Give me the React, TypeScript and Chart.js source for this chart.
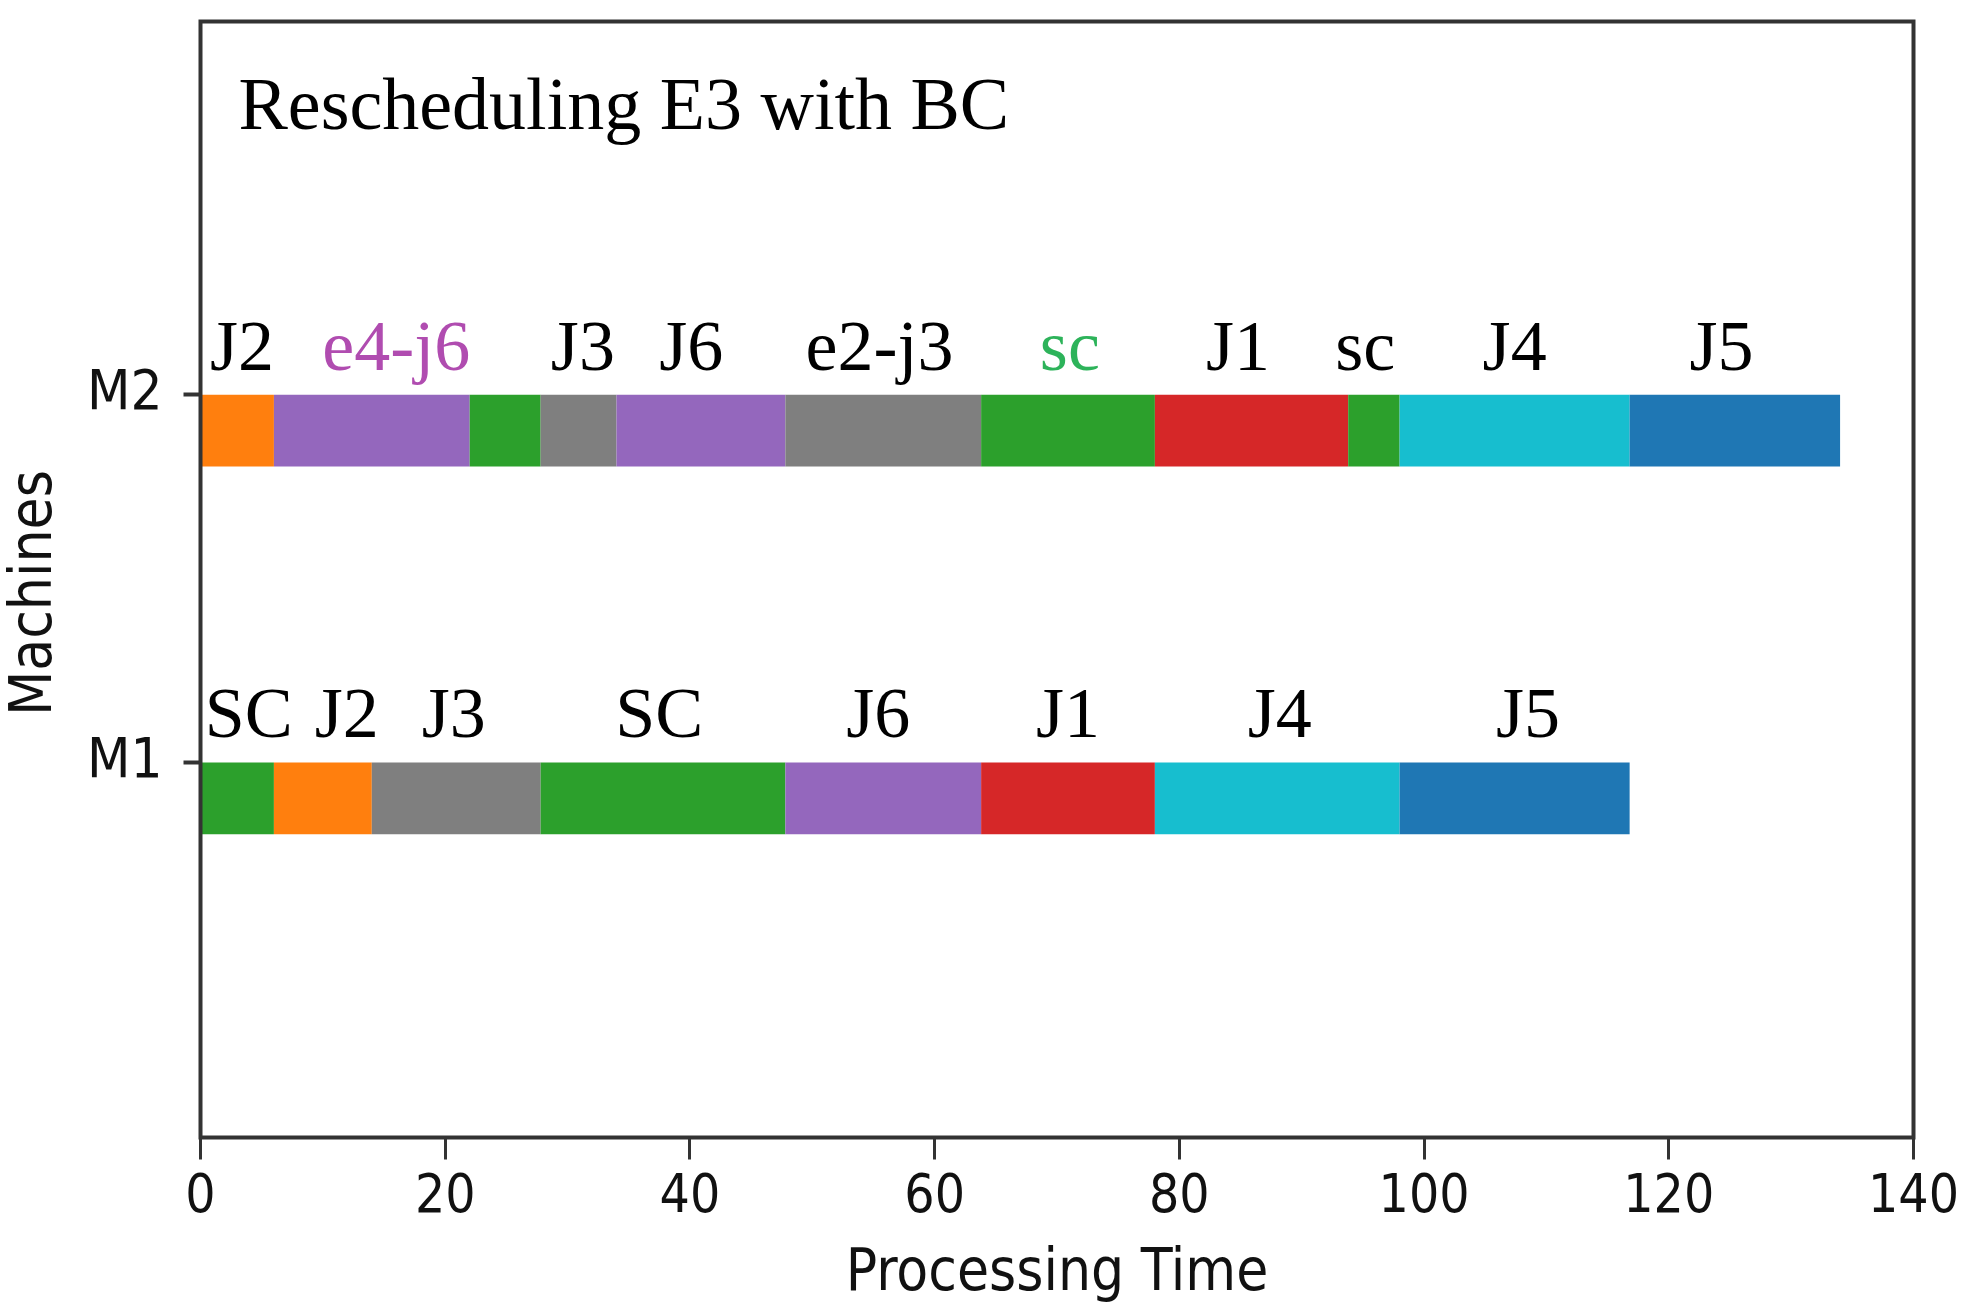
import React, { useEffect, useRef } from 'react';
import { Chart, registerables } from 'chart.js';

Chart.register(...registerables);

// ---------------- data ----------------
const TITLE = 'Rescheduling E3 with BC';
const MACHINES = ['M1', 'M2'];
const MACHINE_POS = [10, 20];
const BAR_HEIGHT = 1.95;

const M1_START = [0, 6, 14, 27.8, 47.8, 63.8, 78, 98];
const M1_END = [6, 14, 27.8, 47.8, 63.8, 78, 98, 116.8];
const M1_LABELS = ['SC', 'J2', 'J3', 'SC', 'J6', 'J1', 'J4', 'J5'];
const M1_LABEL_X = [3.95, 11.95, 20.7, 37.5, 55.4, 70.9, 88.2, 108.5];

const M2_START = [0, 6, 22, 27.8, 34, 47.8, 63.8, 78, 93.8, 98, 116.8];
const M2_END = [6, 22, 27.8, 34, 47.8, 63.8, 78, 93.8, 98, 116.8, 134];
const M2_LABELS = ['J2', 'e4-j6', '', 'J3', 'J6', 'e2-j3', 'sc', 'J1', 'sc', 'J4', 'J5'];
const M2_LABEL_X = [3.4, 16.0, 25, 31.25, 40.1, 55.5, 71.05, 84.8, 95.2, 107.4, 124.3];

const X_MIN = 0;
const X_MAX = 140;
const X_STEP = 20;
const Y_MIN = -0.2;
const Y_MAX = 30.15;

// ---------------- styles ----------------
const ORANGE = '#ff7f0e';
const PURPLE = '#9467bd';
const GREEN = '#2ca02c';
const GRAY = '#7f7f7f';
const RED = '#d62728';
const CYAN = '#17becf';
const BLUE = '#1f77b4';

const M1_COLORS = [GREEN, ORANGE, GRAY, GREEN, PURPLE, RED, CYAN, BLUE];
const M2_COLORS = [ORANGE, PURPLE, GREEN, GRAY, PURPLE, GRAY, GREEN, RED, GREEN, CYAN, BLUE];
const M1_LABEL_COLORS = M1_LABELS.map(() => '#000000');
const M2_LABEL_COLORS = M2_LABELS.map((_, i) => (i === 1 ? '#b04cb0' : i === 6 ? '#2db35a' : '#000000'));

const SANS = "'DejaVu Sans Condensed', 'DejaVu Sans', sans-serif";
const SERIF = "'Liberation Serif', 'DejaVu Serif', serif";
const SPINE = '#333333';
const TEXT = '#111111';

const TITLE_POS = { x: 3.1, y: 27.24 };
const LABEL_LIFT = 0.68;

function buildData(start: number[], end: number[], pos: number) {
  return start.map((s, i) => ({ x: [s, end[i]], y: pos - BAR_HEIGHT / 2 }));
}

const annotationsPlugin = {
  id: 'ganttAnnotations',
  afterDatasetsDraw(chart: any) {
    const { ctx, chartArea, scales } = chart;
    const xs = scales.x;
    const ys = scales.y;
    ctx.save();
    // frame (spines)
    ctx.strokeStyle = SPINE;
    ctx.lineWidth = 4;
    ctx.strokeRect(chartArea.left, chartArea.top, chartArea.right - chartArea.left, chartArea.bottom - chartArea.top);

    // bar labels
    ctx.font = `72px ${SERIF}`;
    ctx.textAlign = 'center';
    ctx.textBaseline = 'alphabetic';
    const rows = [
      { labels: M1_LABELS, lx: M1_LABEL_X, colors: M1_LABEL_COLORS, pos: MACHINE_POS[0] },
      { labels: M2_LABELS, lx: M2_LABEL_X, colors: M2_LABEL_COLORS, pos: MACHINE_POS[1] },
    ];
    rows.forEach((r) => {
      r.labels.forEach((lab, i) => {
        if (!lab) return;
        const cx = xs.getPixelForValue(r.lx[i]);
        const cy = ys.getPixelForValue(r.pos + LABEL_LIFT);
        ctx.fillStyle = r.colors[i];
        ctx.fillText(lab, cx, cy);
      });
    });

    // title
    ctx.font = `74px ${SERIF}`;
    ctx.textAlign = 'left';
    ctx.fillStyle = '#000000';
    ctx.fillText(TITLE, xs.getPixelForValue(TITLE_POS.x), ys.getPixelForValue(TITLE_POS.y));
    ctx.restore();
  },
};

export default function App() {
  const canvasRef = useRef<HTMLCanvasElement | null>(null);

  useEffect(() => {
    if (!canvasRef.current) return;
    const chart = new Chart(canvasRef.current, {
      type: 'bar',
      data: {
        datasets: [
          {
            label: MACHINES[0],
            data: buildData(M1_START, M1_END, MACHINE_POS[0]) as any,
            backgroundColor: M1_COLORS,
            borderWidth: 0,
            grouped: false,
            barPercentage: BAR_HEIGHT / (MACHINE_POS[1] - MACHINE_POS[0]),
            categoryPercentage: 1,
          },
          {
            label: MACHINES[1],
            data: buildData(M2_START, M2_END, MACHINE_POS[1]) as any,
            backgroundColor: M2_COLORS,
            borderWidth: 0,
            grouped: false,
            barPercentage: BAR_HEIGHT / (MACHINE_POS[1] - MACHINE_POS[0]),
            categoryPercentage: 1,
          },
        ],
      },
      options: {
        indexAxis: 'y',
        animation: false,
        responsive: true,
        maintainAspectRatio: false,
        devicePixelRatio: 1,
        layout: { padding: { top: 21.5, right: 56.5, bottom: 0, left: 0 } },
        plugins: {
          legend: { display: false },
          tooltip: { enabled: false },
          title: { display: false },
        },
        scales: {
          x: {
            type: 'linear',
            min: X_MIN,
            max: X_MAX,
            position: 'bottom',
            offset: false,
            ticks: {
              stepSize: X_STEP,
              color: TEXT,
              font: { family: SANS, size: 53 },
              padding: 7,
              maxRotation: 0,
            },
            grid: {
              display: true,
              offset: false,
              drawOnChartArea: false,
              drawTicks: true,
              tickLength: 22,
              tickWidth: 3,
              tickColor: SPINE,
            },
            border: { display: false },
            title: {
              display: true,
              text: 'Processing Time',
              color: TEXT,
              font: { family: SANS, size: 58, lineHeight: 1 },
              padding: { top: 0, bottom: 7 },
            },
            afterFit: (scale: any) => {
              scale.height = 173.5;
              scale.paddingLeft = 0;
              scale.paddingRight = 0;
            },
          },
          y: {
            type: 'linear',
            min: Y_MIN,
            max: Y_MAX,
            position: 'left',
            offset: false,
            afterBuildTicks: (scale: any) => {
              scale.ticks = MACHINE_POS.map((v) => ({ value: v }));
            },
            ticks: {
              color: TEXT,
              font: { family: SANS, size: 56 },
              padding: 21,
              callback: (v: any) => {
                const idx = MACHINE_POS.indexOf(Number(v));
                return idx >= 0 ? MACHINES[idx] : '';
              },
            },
            grid: {
              display: true,
              offset: false,
              drawOnChartArea: false,
              drawTicks: true,
              tickLength: 17,
              tickWidth: 4,
              tickColor: SPINE,
            },
            border: { display: false },
            title: {
              display: true,
              text: 'Machines \u2009',
              color: TEXT,
              font: { family: SANS, size: 58, lineHeight: 1 },
              padding: { top: 7, bottom: 0 },
            },
            afterFit: (scale: any) => {
              scale.width = 200.5;
              scale.paddingTop = 0;
              scale.paddingBottom = 0;
            },
          },
        },
      },
      plugins: [annotationsPlugin],
    });
    return () => chart.destroy();
  }, []);

  return (
    <div style={{ position: 'absolute', left: 0, top: 0, width: 1970, height: 1311, background: '#ffffff' }}>
      <canvas ref={canvasRef} />
    </div>
  );
}
